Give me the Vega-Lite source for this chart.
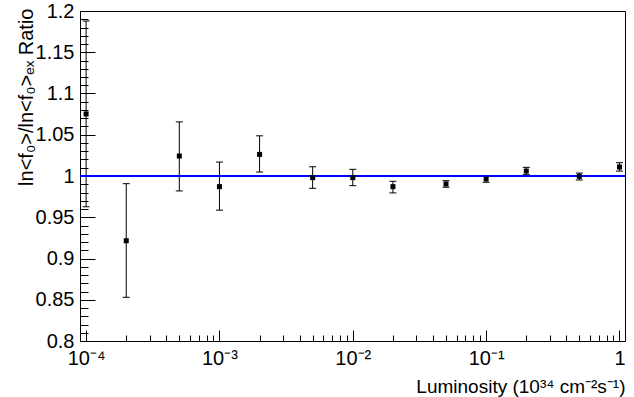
{
  "$schema": "https://vega.github.io/schema/vega-lite/v6.json",
  "width": 545,
  "height": 330,
  "autosize": "none",
  "padding": {"left": 80, "top": 11, "right": 9, "bottom": 56},
  "background": "white",
  "config": {
    "view": {"stroke": "black", "strokeWidth": 1},
    "font": "Liberation Sans",
    "axis": {
      "domain": false,
      "grid": false,
      "tickColor": "black",
      "tickWidth": 1,
      "labelColor": "black",
      "titleColor": "black",
      "labelFont": "Liberation Sans",
      "titleFont": "Liberation Sans",
      "labelFontSize": 20,
      "titleFontSize": 20,
      "titleFontWeight": "normal",
      "labelFlush": false,
      "labelOverlap": false
    }
  },
  "data": {
    "values": [
      {"lum": 0.0001, "val": 1.0752, "lo": 0.9626, "hi": 1.188},
      {"lum": 0.0002, "val": 0.9215, "lo": 0.853, "hi": 0.9907},
      {"lum": 0.0005, "val": 1.0242, "lo": 0.9819, "hi": 1.0656},
      {"lum": 0.001, "val": 0.9871, "lo": 0.9586, "hi": 1.0169},
      {"lum": 0.002, "val": 1.0262, "lo": 1.0048, "hi": 1.0487},
      {"lum": 0.005, "val": 0.998, "lo": 0.9851, "hi": 1.0112},
      {"lum": 0.01, "val": 0.998, "lo": 0.9883, "hi": 1.0081},
      {"lum": 0.02, "val": 0.9871, "lo": 0.9795, "hi": 0.9936},
      {"lum": 0.05, "val": 0.9903, "lo": 0.9864, "hi": 0.9943},
      {"lum": 0.1, "val": 0.9964, "lo": 0.9924, "hi": 1.0},
      {"lum": 0.2, "val": 1.006, "lo": 1.0016, "hi": 1.0105},
      {"lum": 0.5, "val": 0.9996, "lo": 0.9952, "hi": 1.0036},
      {"lum": 1, "val": 1.0109, "lo": 1.006, "hi": 1.0161}
    ]
  },
  "layer": [
    {
      "mark": {"type": "rule", "color": "black", "strokeWidth": 1},
      "encoding": {
        "x": {
          "field": "lum", "type": "quantitative",
          "scale": {"type": "log", "domain": [0.00009, 1.1], "nice": false},
          "axis": {
            "orient": "bottom",
            "values": [0.0002, 0.0003, 0.0004, 0.0005, 0.0006, 0.0007, 0.0008, 0.0009, 0.002, 0.003, 0.004, 0.005, 0.006, 0.007, 0.008, 0.009, 0.02, 0.03, 0.04, 0.05, 0.06, 0.07, 0.08, 0.09, 0.2, 0.3, 0.4, 0.5, 0.6, 0.7, 0.8, 0.9],
            "tickSize": -6,
            "labels": false,
            "title": null
          }
        },
        "y": {
          "field": "lo", "type": "quantitative",
          "scale": {"domain": [0.8, 1.2], "nice": false, "zero": false},
          "axis": {
            "orient": "left",
            "values": [0.81, 0.82, 0.83, 0.84, 0.86, 0.87, 0.88, 0.89, 0.91, 0.92, 0.93, 0.94, 0.96, 0.97, 0.98, 0.99, 1.01, 1.02, 1.03, 1.04, 1.06, 1.07, 1.08, 1.09, 1.11, 1.12, 1.13, 1.14, 1.16, 1.17, 1.18, 1.19],
            "tickSize": -8,
            "labels": false,
            "title": null
          }
        },
        "y2": {"field": "hi"}
      }
    },
    {
      "mark": {"type": "tick", "orient": "horizontal", "color": "black", "size": 7, "thickness": 1, "opacity": 1},
      "encoding": {
        "x": {"field": "lum", "type": "quantitative", "axis": null},
        "y": {"field": "lo", "type": "quantitative", "axis": null}
      }
    },
    {
      "mark": {"type": "tick", "orient": "horizontal", "color": "black", "size": 7, "thickness": 1, "opacity": 1},
      "encoding": {
        "x": {"field": "lum", "type": "quantitative", "axis": null},
        "y": {"field": "hi", "type": "quantitative", "axis": null}
      }
    },
    {
      "mark": {"type": "rule", "color": "#0000ff", "strokeWidth": 2},
      "encoding": {
        "y": {"datum": 1, "type": "quantitative", "axis": null}
      }
    },
    {
      "mark": {"type": "square", "color": "black", "filled": true, "size": 25, "opacity": 1},
      "encoding": {
        "x": {
          "field": "lum", "type": "quantitative",
          "axis": {
            "orient": "bottom",
            "values": [0.0001, 0.001, 0.01, 0.1, 1],
            "tickSize": -11,
            "labelPadding": 18,
            "labelBaseline": "top",
            "labelAlign": "center",
            "labelExpr": "datum.value < 0.0005 ? '10⁻⁴' : datum.value < 0.005 ? '10⁻³' : datum.value < 0.05 ? '10⁻²' : datum.value < 0.5 ? '10⁻¹' : '1'",
            "title": "Luminosity (10³⁴ cm⁻²s⁻¹)",
            "titleFontSize": 19,
            "titleX": 545,
            "titleY": 51,
            "titleAlign": "right",
            "titleAnchor": null,
            "titleBaseline": "alphabetic",
            "titleAngle": 0
          }
        },
        "y": {
          "field": "val", "type": "quantitative",
          "axis": {
            "orient": "left",
            "values": [0.8, 0.85, 0.9, 0.95, 1, 1.05, 1.1, 1.15, 1.2],
            "tickSize": -15,
            "labelPadding": 21,
            "labelBaseline": "middle",
            "labelAlign": "right",
            "format": "~g",
            "title": "ln<f₀>/ln<f₀>ₑₓ Ratio",
            "titleX": -48,
            "titleY": -3,
            "titleAngle": 270,
            "titleAlign": "right",
            "titleBaseline": "alphabetic"
          }
        }
      }
    }
  ],
  "resolve": {"axis": {"x": "independent", "y": "independent"}}
}
